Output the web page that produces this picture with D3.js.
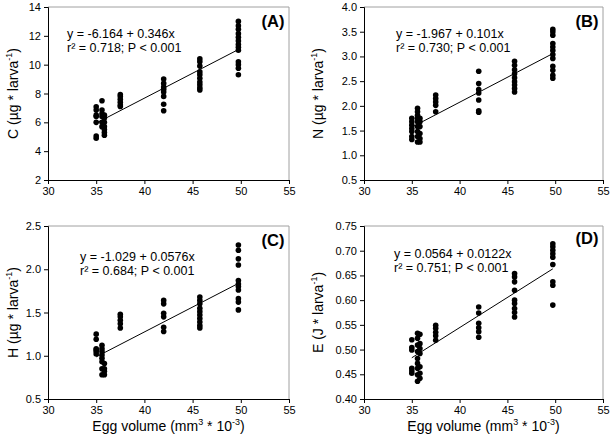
<!DOCTYPE html>
<html>
<head>
<meta charset="utf-8">
<script src="https://cdn.jsdelivr.net/npm/d3@7"></script>
<style>
body{margin:0;background:#fff;}
svg{display:block;font-family:"Liberation Sans",Arial,sans-serif;}
</style>
</head>
<body>
<svg id="chart" width="610" height="435"></svg>
<script>
// Egg volume cluster positions (mm3 * 10^-3)
const clusterX = [35.0, 35.6, 35.85, 37.5, 42.0, 45.75, 49.75];
const xTicks = [30, 35, 40, 45, 50, 55];

// Panel A: C (µg * larva-1)
const valuesC = [
  [7.08, 6.85, 6.5, 6.4, 6.0, 5.05, 4.9],
  [7.5, 6.85, 6.6, 6.4, 6.0, 5.7],
  [6.5, 6.3, 6.0, 5.7, 5.5, 5.3, 5.1],
  [7.93, 7.8, 7.6, 7.4, 7.2, 7.1],
  [9.0, 8.7, 8.45, 8.3, 8.1, 7.8, 7.25, 6.8],
  [10.4, 10.2, 9.9, 9.5, 9.3, 9.05, 8.8, 8.6, 8.4, 8.25],
  [13.0, 12.7, 12.45, 12.15, 11.9, 11.65, 11.4, 11.2, 11.0, 10.2, 10.0, 9.75, 9.3]
];
// Panel B: N (µg * larva-1)
const valuesN = [
  [1.75, 1.68, 1.61, 1.54, 1.48, 1.38, 1.32],
  [1.95, 1.88, 1.81, 1.75, 1.68, 1.58, 1.48, 1.38, 1.27],
  [1.75, 1.68, 1.58, 1.44, 1.34, 1.27],
  [2.22, 2.15, 2.08, 2.01, 1.88],
  [2.70, 2.45, 2.33, 2.26, 2.12, 1.90, 1.87],
  [2.90, 2.82, 2.73, 2.65, 2.57, 2.49, 2.42, 2.35, 2.28],
  [3.55, 3.50, 3.43, 3.26, 3.19, 3.12, 3.04, 2.96, 2.80, 2.72, 2.62, 2.56]
];
// Panel C: H (µg * larva-1)
const valuesH = [
  [1.25, 1.19, 1.08, 1.07, 1.05, 1.02],
  [1.12, 1.08, 1.05, 1.01, 0.97, 0.93, 0.85, 0.78],
  [0.91, 0.85, 0.82, 0.78],
  [1.48, 1.45, 1.41, 1.37, 1.32],
  [1.64, 1.60, 1.49, 1.45, 1.33, 1.28],
  [1.68, 1.64, 1.60, 1.55, 1.51, 1.47, 1.43, 1.39, 1.35, 1.32],
  [2.28, 2.22, 2.12, 2.05, 1.87, 1.83, 1.80, 1.76, 1.66, 1.62, 1.53]
];
// Panel D: E (J * larva-1)
const valuesE = [
  [0.520, 0.504, 0.499, 0.462, 0.457, 0.452],
  [0.533, 0.523, 0.509, 0.496, 0.482, 0.472, 0.462, 0.449, 0.436],
  [0.531, 0.512, 0.502, 0.492, 0.465, 0.452, 0.442],
  [0.549, 0.543, 0.535, 0.528, 0.519],
  [0.586, 0.574, 0.553, 0.544, 0.536, 0.525],
  [0.654, 0.647, 0.637, 0.620, 0.600, 0.593, 0.583, 0.575, 0.566],
  [0.714, 0.708, 0.701, 0.694, 0.687, 0.672, 0.637, 0.630, 0.590]
];

const yTicksC = [2, 4, 6, 8, 10, 12, 14];
const yTicksN = [0.5, 1.0, 1.5, 2.0, 2.5, 3.0, 3.5, 4.0];
const yTicksH = [0.5, 1.0, 1.5, 2.0, 2.5];
const yTicksE = [0.40, 0.45, 0.50, 0.55, 0.60, 0.65, 0.70, 0.75];

const interceptArr = [-6.164, -1.967, -1.029, 0.0564];
const slopeArr = [0.346, 0.101, 0.0576, 0.0122];
const eqLines = ["y = -6.164 + 0.346x", "y = -1.967 + 0.101x", "y = -1.029 + 0.0576x", "y = 0.0564 + 0.0122x"];
const statLines = ["r² = 0.718; P < 0.001", "r² = 0.730; P < 0.001", "r² = 0.684; P < 0.001", "r² = 0.751; P < 0.001"];
const panelLetters = ["(A)", "(B)", "(C)", "(D)"];
const yLetters = ["C", "N", "H", "E"];
const yUnits = ["µg", "µg", "µg", "J"];
const lineRange = [35.0, 49.75];

const svg = d3.select("#chart");

const panels = [
  {vals: valuesC, ticks: yTicksC, fmt: d3.format("d"), box: [48, 7, 289, 180], showX: false, eq: [67, 34], lab: [273, 21], ylab: 13},
  {vals: valuesN, ticks: yTicksN, fmt: d3.format(".1f"), box: [364, 7, 603, 180], showX: false, eq: [396, 34], lab: [587, 21], ylab: 318},
  {vals: valuesH, ticks: yTicksH, fmt: d3.format(".1f"), box: [48, 226, 289, 399], showX: true, eq: [80, 257], lab: [273, 240], ylab: 13},
  {vals: valuesE, ticks: yTicksE, fmt: d3.format(".2f"), box: [364, 226, 603, 399], showX: true, eq: [394, 254], lab: [587, 238], ylab: 318}
];

panels.forEach((p, i) => {
  const [x0, y0, x1, y1] = p.box;
  const x = d3.scaleLinear().domain([30, 55]).range([x0, x1]);
  const y = d3.scaleLinear().domain([p.ticks[0], p.ticks[p.ticks.length - 1]]).range([y1, y0]);
  const g = svg.append("g");

  // frame top/right (grey)
  g.append("path")
    .attr("d", `M${x0},${y0}H${x1}V${y1}`)
    .attr("fill", "none").attr("stroke", "#a0a0a0").attr("stroke-width", 1);

  const xAxis = g.append("g").attr("transform", `translate(0,${y1})`)
    .call(d3.axisBottom(x).tickValues(xTicks).tickSize(4).tickPadding(3).tickFormat(d3.format("d")));
  const yAxis = g.append("g").attr("transform", `translate(${x0},0)`)
    .call(d3.axisLeft(y).tickValues(p.ticks).tickSize(4).tickPadding(3).tickFormat(p.fmt));
  [xAxis, yAxis].forEach(a => {
    a.selectAll("text").attr("font-size", 11).attr("fill", "#000")
      .attr("font-family", "'Liberation Sans',Arial,sans-serif");
    a.selectAll("line,path").attr("stroke", "#000");
  });

  // points
  const pts = [];
  p.vals.forEach((arr, k) => arr.forEach(v => pts.push([clusterX[k], v])));
  g.selectAll("circle").data(pts).join("circle")
    .attr("cx", d => x(d[0])).attr("cy", d => y(d[1])).attr("r", 2.8).attr("fill", "#000");

  // regression line
  const lineData = lineRange.map(xx => [xx, interceptArr[i] + slopeArr[i] * xx]);
  g.append("path").datum(lineData)
    .attr("d", d3.line().x(d => x(d[0])).y(d => y(d[1])))
    .attr("fill", "none").attr("stroke", "#000").attr("stroke-width", 1);

  // equation text
  g.append("text").attr("x", p.eq[0]).attr("y", p.eq[1]).attr("dy", "0.35em")
    .attr("font-size", 12.5).text(eqLines[i]);
  g.append("text").attr("x", p.eq[0]).attr("y", p.eq[1] + 14).attr("dy", "0.35em")
    .attr("font-size", 12.5).text(statLines[i]);

  // panel letter
  g.append("text").attr("x", p.lab[0]).attr("y", p.lab[1]).attr("dy", "0.35em")
    .attr("text-anchor", "middle").attr("font-size", 16.5).attr("font-weight", "bold").text(panelLetters[i]);

  // y axis label
  const yl = g.append("text")
    .attr("transform", `translate(${p.ylab + 5},${(y0 + y1) / 2}) rotate(-90)`)
    .attr("text-anchor", "middle").attr("font-size", 14);
  yl.append("tspan").text(`${yLetters[i]} (${yUnits[i]} * larva`);
  yl.append("tspan").attr("font-size", 9).attr("dy", -6).text("-1");
  yl.append("tspan").attr("dy", 6).text(")");

  if (p.showX) {
    const xl = g.append("text").attr("x", (x0 + x1) / 2).attr("y", 431)
      .attr("text-anchor", "middle").attr("font-size", 14);
    xl.append("tspan").text("Egg volume (mm");
    xl.append("tspan").attr("font-size", 9).attr("dy", -6).text("3");
    xl.append("tspan").attr("dy", 6).text(" * 10");
    xl.append("tspan").attr("font-size", 9).attr("dy", -6).text("-3");
    xl.append("tspan").attr("dy", 6).text(")");
  }
});
</script>
</body>
</html>
